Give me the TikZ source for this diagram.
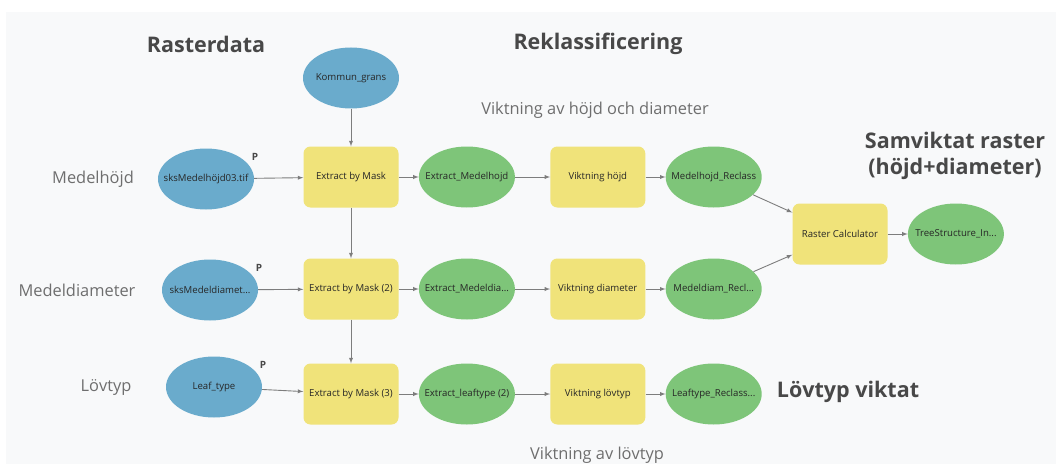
\documentclass[tikz,border=0pt]{standalone}
\usepackage{fontspec}
\setmainfont{Open Sans}
\usepackage{xcolor}
\usepackage{tikz}
\usetikzlibrary{shapes.geometric, arrows, positioning}
\definecolor{data_blue}{RGB}{106, 171, 204}
\definecolor{out_green}{RGB}{126, 197, 121}
\definecolor{tool_yellow}{RGB}{240, 227, 122}
\definecolor{canvas}{RGB}{248, 249, 250}
\definecolor{linegray}{RGB}{125, 125, 125}
\definecolor{headgray}{RGB}{72, 72, 72}
\definecolor{labelgray}{RGB}{110, 110, 110}
\tikzstyle{arrow} = [line width=0.9pt, draw=linegray, ->, >=latex]
\tikzstyle{datanode} = [ellipse, fill=data_blue, minimum width=96pt, minimum height=61pt, inner xsep=-20pt, inner ysep=0pt, text=black!85, font=\fontsize{9.6}{11}\selectfont]
\tikzstyle{outnode} = [ellipse, fill=out_green, minimum width=96pt, minimum height=61pt, inner xsep=-20pt, inner ysep=0pt, text=black!85, font=\fontsize{9.6}{11}\selectfont]
\tikzstyle{toolnode} = [rectangle, rounded corners=7pt, fill=tool_yellow, minimum width=95pt, minimum height=61pt, inner sep=0pt, text=black!85, font=\fontsize{9.6}{11}\selectfont]
\tikzstyle{pflag} = [text=headgray, font=\fontsize{10}{11}\selectfont\bfseries, inner sep=0pt]
\tikzstyle{heading} = [text=headgray, font=\fontsize{21.5}{26}\selectfont\bfseries, align=center]
\tikzstyle{rowlabel} = [text=labelgray, font=\fontsize{16.4}{19}\selectfont]

\begin{document}
\begin{tikzpicture}[x=1pt, y=-1pt]

% Canvas
\useasboundingbox (0,0) rectangle (1056,468);
\fill[white] (0,0) rectangle (1056,468);
\fill[canvas] (6,12) rectangle (1056,464);

% Headings
\node[heading] (h_raster) at (206,44) {Rasterdata};
\node[heading] (h_reclass) at (598,44) {Reklassificering};
\node[heading] (h_combined) at (955,156) {Samviktat raster\\(höjd+diameter)};
\node[heading] (h_leaf) at (848,392) {Lövtyp viktat};
\node[rowlabel] (w_hd) at (595,110) {Viktning av höjd och diameter};
\node[rowlabel] (w_leaf) at (597,455) {Viktning av lövtyp};

% Row labels
\node[rowlabel] (l_height) at (93,179) {Medelhöjd};
\node[rowlabel] (l_diam) at (77,290) {Medeldiameter};
\node[rowlabel] (l_leaf) at (106,387) {Lövtyp};

% Mask input
\node[datanode] (kommun) at (351,78) {Kommun\_grans};

% Row 1
\node[datanode] (in_height) at (206,179) {sksMedelhöjd03.tif};
\node[toolnode] (mask1) at (351,177) {Extract by Mask};
\node[outnode, right=20pt of mask1] (ext_height) {Extract\_Medelhojd};
\node[toolnode, right=35pt of ext_height] (wt_height) {Viktning höjd};
\node[outnode, right=20pt of wt_height] (rc_height) {Medelhojd\_Reclass};

% Row 2
\node[datanode] (in_diam) at (210,290) {sksMedeldiamet...};
\node[toolnode] (mask2) at (351,289) {Extract by Mask (2)};
\node[outnode, right=20pt of mask2] (ext_diam) {Extract\_Medeldia...};
\node[toolnode, right=35pt of ext_diam] (wt_diam) {Viktning diameter};
\node[outnode, right=20pt of wt_diam] (rc_diam) {Medeldiam\_Recl...};

% Row 3
\node[datanode] (in_leaf) at (214,387) {Leaf\_type};
\node[toolnode] (mask3) at (351,394) {Extract by Mask (3)};
\node[outnode, right=20pt of mask3] (ext_leaf) {Extract\_leaftype (2)};
\node[toolnode, right=35pt of ext_leaf] (wt_leaf) {Viktning lövtyp};
\node[outnode, right=20pt of wt_leaf] (rc_leaf) {Leaftype\_Reclass...};

% Combination
\node[toolnode] (calc) at (840,234) {Raster Calculator};
\node[outnode, right=20pt of calc] (tree) {TreeStructure\_In...};

% Parameter flags
\node[pflag] (p1) at ([xshift=15pt]in_height.north east) {P};
\node[pflag] (p2) at ([xshift=15pt]in_diam.north east) {P};
\node[pflag] (p3) at ([xshift=15pt]in_leaf.north east) {P};

% Arrows
\draw[arrow] (kommun) -- (mask1);
\draw[arrow] (mask1) -- (mask2);
\draw[arrow] (mask2) -- (mask3);
\draw[arrow] (in_height) -- (mask1);
\draw[arrow] (in_diam) -- (mask2);
\draw[arrow] (in_leaf) -- (mask3);
\draw[arrow] (mask1) -- (ext_height);
\draw[arrow] (mask2) -- (ext_diam);
\draw[arrow] (mask3) -- (ext_leaf);
\draw[arrow] (ext_height) -- (wt_height);
\draw[arrow] (ext_diam) -- (wt_diam);
\draw[arrow] (ext_leaf) -- (wt_leaf);
\draw[arrow] (wt_height) -- (rc_height);
\draw[arrow] (wt_diam) -- (rc_diam);
\draw[arrow] (wt_leaf) -- (rc_leaf);
\draw[arrow] (rc_height) -- (calc);
\draw[arrow] (rc_diam) -- (calc);
\draw[arrow] (calc) -- (tree);

\end{tikzpicture}
\end{document}
